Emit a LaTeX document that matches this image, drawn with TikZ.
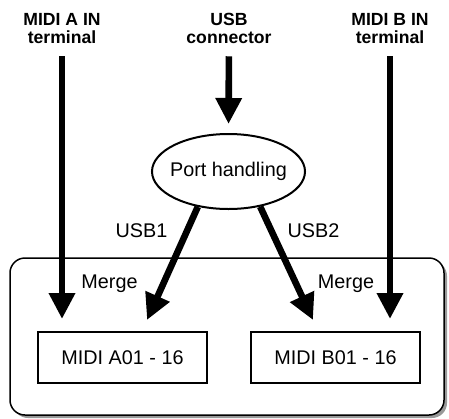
\documentclass[tikz,border=0pt]{standalone}
\usepackage{fontspec}
\setmainfont{Liberation Sans}
\usetikzlibrary{arrows.meta, shapes.geometric, shadows}

\begin{document}
\begin{tikzpicture}[x=0.5pt, y=-0.5pt,
  every node/.style={inner sep=0pt},
  txt/.style={font=\fontsize{9.9}{12}\selectfont},
  head/.style={font=\fontsize{8.8}{9}\selectfont\bfseries, align=center, anchor=north},
  port/.style={txt, draw, line width=1pt, ellipse, inner xsep=-2.5pt,
    minimum width=76.5pt, minimum height=37.5pt},
  part/.style={txt, draw, line width=1pt, minimum width=84.5pt, minimum height=25.5pt},
  panel/.style={draw, line width=0.75pt, fill=white, rounded corners=7.5pt,
    minimum width=217pt, minimum height=78.5pt,
    drop shadow={shadow xshift=1.5pt, shadow yshift=-1.5pt, fill=gray!80, opacity=1}},
  bigarrow/.style={line width=3.3pt, -{Triangle[length=13pt, width=12.5pt]}}]

\useasboundingbox (0,0) rectangle (449,418);

%% ── Panel ────────────────────
\node[panel] (panel) at (227,336.5) {};

% inputs
\node[head] (inA) at (62,13)  {MIDI A IN\\terminal};
\node[head] (usb) at (229,13) {USB\\connector};
\node[head] (inB) at (390,13) {MIDI B IN\\terminal};

\node[port] (ph) at (228.5,171.5) {Port handling};

% parts
\node[part] (partA) at (122.5,357.5) {MIDI A01 - 16};
\node[part] (partB) at (335.5,357.5) {MIDI B01 - 16};

\coordinate (tipU1) at (147,320);
\coordinate (tipU2) at (313,320);

% arrows
\draw[bigarrow, shorten <=6pt, shorten >=6pt] (inA.south) -- (inA.south |- partA.north);
\draw[bigarrow, shorten <=6pt, shorten >=6pt] (inB.south) -- (inB.south |- partB.north);
\draw[bigarrow, shorten <=6pt, shorten >=4.5pt] (usb.south) -- (ph.north);
\draw[bigarrow] (ph.229) -- (tipU1);
\draw[bigarrow] (ph.312) -- (tipU2);

% labels
\node[txt] (usb1) at (141.5,230.5) {USB1};
\node[txt] (usb2) at (313.5,230.5) {USB2};
\node[txt] (mergeA) at (109.5,284) {Merge};
\node[txt] (mergeB) at (346,284) {Merge};

\end{tikzpicture}
\end{document}
